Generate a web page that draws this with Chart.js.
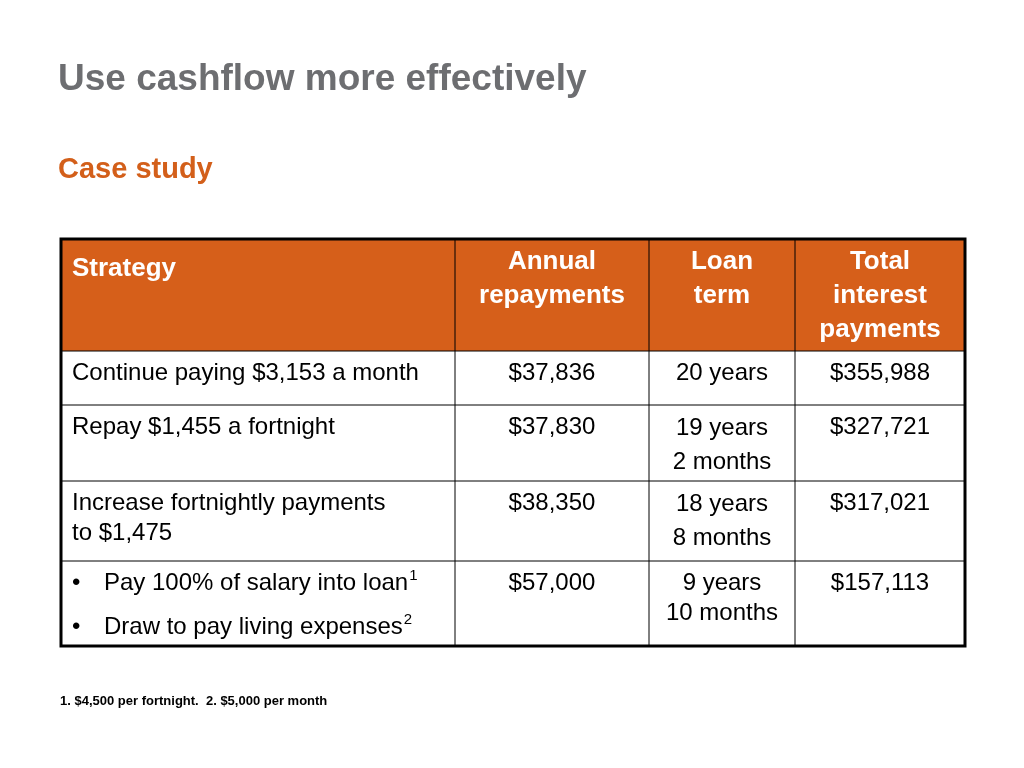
<!DOCTYPE html>
<html>
<head>
<meta charset="utf-8">
<script src="https://cdn.jsdelivr.net/npm/chart.js@4/dist/chart.umd.min.js"></script>
<style>
  html, body { margin: 0; padding: 0; background: #fff; }
</style>
</head>
<body>
<canvas id="c" width="1024" height="768"></canvas>
<script>
// Data
const TITLE = 'Use cashflow more effectively';
const SUBTITLE = 'Case study';
const HEADERS = [['Strategy'], ['Annual', 'repayments'], ['Loan', 'term'], ['Total', 'interest', 'payments']];
const STRATEGIES = [
    ['Continue paying $3,153 a month'],
    ['Repay $1,455 a fortnight'],
    ['Increase fortnightly payments', 'to $1,475'],
    ['•BULLET Pay 100% of salary into loan|1', '•BULLET Draw to pay living expenses|2']
];
const REPAYMENTS = ['$37,836', '$37,830', '$38,350', '$57,000'];
const LOAN_TERMS = [['20 years'], ['19 years', '2 months'], ['18 years', '8 months'], ['9 years', '10 months']];
const TOTAL_INTEREST = ['$355,988', '$327,721', '$317,021', '$157,113'];
const FOOTNOTE = '1. $4,500 per fortnight.  2. $5,000 per month';

// Layout (page units)
const COL_EDGES = [61, 455, 649, 795, 965];
const ROW_EDGES = [239, 351, 405, 481, 561, 646];
const FONT = '"Liberation Sans", Arial, sans-serif';

const tablePlugin = {
    id: 'table',
    afterDraw(chart) {
        const ctx = chart.ctx;
        const sx = v => chart.scales.x.getPixelForValue(v);
        const sy = v => chart.scales.y.getPixelForValue(v);
        ctx.save();
        ctx.textBaseline = 'middle';

        ctx.fillStyle = '#6d6e71';
        ctx.font = 'bold 37px ' + FONT;
        ctx.fillText(TITLE, sx(58), sy(80));
        ctx.fillStyle = '#d35f1a';
        ctx.font = 'bold 29px ' + FONT;
        ctx.fillText(SUBTITLE, sx(58), sy(170));

        // header
        ctx.fillStyle = '#d65f1a';
        ctx.fillRect(sx(COL_EDGES[0]), sy(ROW_EDGES[0]), sx(COL_EDGES[4]) - sx(COL_EDGES[0]), sy(ROW_EDGES[1]) - sy(ROW_EDGES[0]));
        ctx.fillStyle = '#fff';
        ctx.font = 'bold 26px ' + FONT;
        HEADERS.forEach((lines, i) => {
            lines.forEach((t, j) => {
                if (i === 0) { ctx.textAlign = 'left'; ctx.fillText(t, sx(72), sy(269)); }
                else { ctx.textAlign = 'center'; ctx.fillText(t, sx((COL_EDGES[i] + COL_EDGES[i + 1]) / 2), sy(262 + j * 34)); }
            });
        });

        // body
        ctx.fillStyle = '#000';
        ctx.font = '24px ' + FONT;
        for (let r = 0; r < STRATEGIES.length; r++) {
            const top = ROW_EDGES[r + 1] + 22;
            ctx.textAlign = 'left';
            STRATEGIES[r].forEach((t, j) => {
                if (t.startsWith('•BULLET')) {
                    const [txt, sup] = t.replace('•BULLET ', '').split('|');
                    const y = top + j * 44;
                    ctx.font = '24px ' + FONT;
                    ctx.fillText('•', sx(72), sy(y));
                    ctx.fillText(txt, sx(104), sy(y));
                    const w = ctx.measureText(txt).width;
                    ctx.font = '15px ' + FONT;
                    ctx.fillText(sup, sx(104) + w + 1, sy(y - 7));
                    ctx.font = '24px ' + FONT;
                } else {
                    ctx.fillText(t, sx(72), sy(top + j * 30));
                }
            });
            ctx.textAlign = 'center';
            ctx.fillText(REPAYMENTS[r], sx((COL_EDGES[1] + COL_EDGES[2]) / 2), sy(top));
            LOAN_TERMS[r].forEach((t, j) => {
                const gap = r === 3 ? 30 : 34;
                const y0 = r === 0 || r === 3 ? top : top + 1;
                ctx.fillText(t, sx((COL_EDGES[2] + COL_EDGES[3]) / 2), sy(y0 + j * gap));
            });
            ctx.fillText(TOTAL_INTEREST[r], sx((COL_EDGES[3] + COL_EDGES[4]) / 2), sy(top));
        }

        // grid
        ctx.strokeStyle = '#000';
        ctx.lineWidth = 1;
        for (let i = 1; i < COL_EDGES.length - 1; i++) {
            ctx.beginPath(); ctx.moveTo(sx(COL_EDGES[i]), sy(ROW_EDGES[0])); ctx.lineTo(sx(COL_EDGES[i]), sy(ROW_EDGES[ROW_EDGES.length - 1])); ctx.stroke();
        }
        for (let i = 1; i < ROW_EDGES.length - 1; i++) {
            ctx.beginPath(); ctx.moveTo(sx(COL_EDGES[0]), sy(ROW_EDGES[i])); ctx.lineTo(sx(COL_EDGES[4]), sy(ROW_EDGES[i])); ctx.stroke();
        }
        ctx.lineWidth = 3;
        ctx.strokeRect(sx(COL_EDGES[0]), sy(ROW_EDGES[0]), sx(COL_EDGES[4]) - sx(COL_EDGES[0]), sy(ROW_EDGES[5]) - sy(ROW_EDGES[0]));

        ctx.textAlign = 'left';
        ctx.font = 'bold 13px ' + FONT;
        ctx.fillText(FOOTNOTE, sx(60), sy(701));
        ctx.restore();
    }
};

new Chart(document.getElementById('c'), {
    type: 'scatter',
    data: { datasets: [{ data: [] }] },
    options: {
        responsive: false,
        animation: false,
        layout: { padding: 0 },
        plugins: { legend: { display: false }, tooltip: { enabled: false } },
        scales: {
            x: { type: 'linear', min: 0, max: 1024, display: false },
            y: { type: 'linear', min: 0, max: 768, reverse: true, display: false }
        }
    },
    plugins: [tablePlugin]
});
</script>
</body>
</html>
